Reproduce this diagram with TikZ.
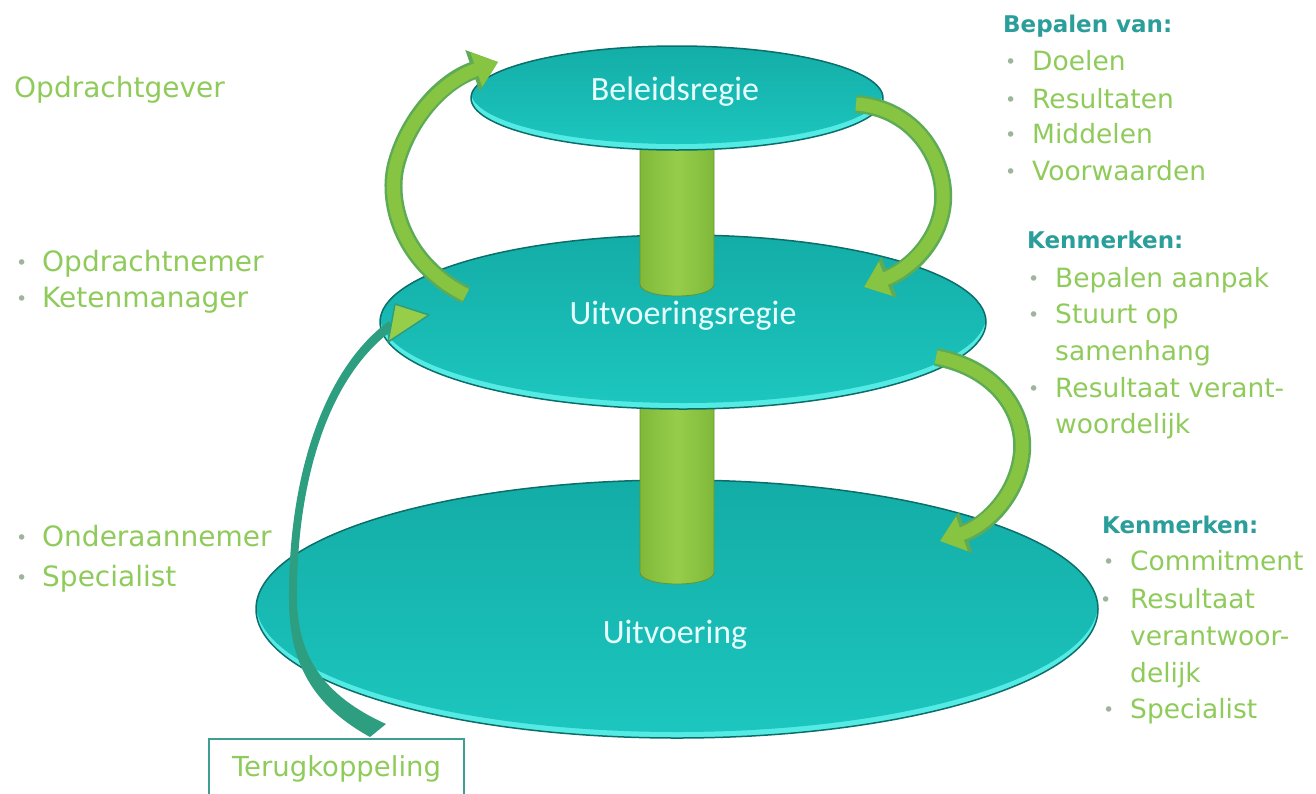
\documentclass[tikz,border=0pt]{standalone}
\usepackage{fontspec}
\setmainfont{DejaVu Sans}
\newfontfamily\labfont{Carlito}
\usetikzlibrary{shapes.geometric,arrows.meta,calc}
\definecolor{tealA}{HTML}{13ACA6}
\definecolor{tealB}{HTML}{1CC6BE}
\definecolor{rimc}{HTML}{55EBE5}
\definecolor{edgec}{HTML}{0C6E6B}
\definecolor{limeL}{HTML}{96CE4A}
\definecolor{limeD}{HTML}{80B93A}
\definecolor{arrowc}{HTML}{86C442}
\definecolor{arrowo}{HTML}{5EAB55}
\definecolor{fbc}{HTML}{2E9E80}
\definecolor{txtg}{HTML}{8FCB5A}
\definecolor{headc}{HTML}{2A9E9A}
\definecolor{bulc}{HTML}{9DB59A}
\definecolor{labc}{HTML}{E6FFFF}
\definecolor{boxc}{HTML}{3E9E94}
\newcommand\bul[1][25pt]{\makebox[#1][l]{\raisebox{2pt}{\fontsize{19}{19}\selectfont\color{bulc}\textbullet}}}
\tikzset{
  disc/.style={ellipse, inner sep=0pt, draw=edgec, line width=1.5pt,
    path picture={
      \fill[rimc] (path picture bounding box.south west) rectangle (path picture bounding box.north east);
      \shade[top color=tealA, bottom color=tealB] ($(path picture bounding box.center)+(0,-6)$) ellipse (#1);
    }},
  lab/.style={font=\labfont\fontsize{34}{40}\selectfont, text=labc, anchor=base, inner sep=0pt},
  side/.style={font=\fontsize{26.5}{30}\selectfont, text=txtg, anchor=base west, inner sep=0pt},
  lside/.style={side, font=\fontsize{28}{32}\selectfont},
  head/.style={font=\bfseries\fontsize{23}{28}\selectfont, text=headc, anchor=base west, inner sep=0pt},
  pillar/.style={left color=limeD, right color=limeD, middle color=limeL, draw=limeD!80!black, line width=0.8pt},
  bigarrowout/.style={draw=arrowo, line width=18pt, -{Triangle[length=27pt,width=42pt]}},
  bigarrow/.style={draw=arrowc, line width=13pt, -{Triangle[length=23pt,width=35pt]}},
}
\begin{document}
\begin{tikzpicture}[x=1pt,y=-1pt]
\useasboundingbox (0,0) rectangle (1316,793);

% bottom disc
\node[disc={421pt and 129pt}, minimum width=842pt, minimum height=258pt] (bot) at (677,609) {};
% lower pillar
\shade[pillar] (640,395) -- (640,572) .. controls (640,588) and (714,588) .. (714,572) -- (714,395) -- cycle;
% middle disc
\node[disc={303pt and 87pt}, minimum width=606pt, minimum height=174pt] (mid) at (683,322) {};
% upper pillar
\shade[pillar] (640,130) -- (640,284) .. controls (640,300) and (714,300) .. (714,284) -- (714,130) -- cycle;
% top disc
\node[disc={206pt and 52pt}, minimum width=412pt, minimum height=104pt] (top) at (677,98) {};

% disc labels
\node[lab] (ltop) at (675,100) {Beleidsregie};
\node[lab] (lmid) at (683,324) {Uitvoeringsregie};
\node[lab] (lbot) at (675,643) {Uitvoering};

% named ends of the curved arrows
\coordinate (a1s) at (466,295);
\coordinate (a1e) at (498,62);
\coordinate (a2s) at (856,104);
\coordinate (a2e) at (864,287);
\coordinate (a3s) at (936,357);
\coordinate (a3e) at (940,541);

\foreach \st in {bigarrowout,bigarrow}{
  \draw[\st] (a1s) .. controls (405,265) and (386,205) .. (396,165) .. controls (407,122) and (440,82) .. (a1e);
  \draw[\st] (a2s) .. controls (915,108) and (946,160) .. (943,202) .. controls (940,242) and (908,270) .. (a2e);
  \draw[\st] (a3s) .. controls (995,368) and (1025,410) .. (1022,452) .. controls (1018,496) and (985,526) .. (a3e);
}

% feedback arrow (tapered line plus head)
\coordinate (fbs) at (378,730);
\coordinate (fbe) at (429,315);
\fill[fbc] (370,737) .. controls (312,705) and (289,662) .. (289,600)
   .. controls (288,480) and (322,370) .. (389,321)
   -- (394,329) .. controls (328,376) and (296,482) .. (297,600)
   .. controls (298,655) and (322,695) .. (386,724) -- cycle;
\filldraw[fill=limeL, draw=fbc, line width=1.5pt, line join=round]
   (fbe) -- (395,304) -- (388,342) -- cycle;

% feedback box
\node[draw=boxc, line width=2pt, minimum width=255pt, minimum height=60pt, anchor=north west,
      font=\fontsize{27.5}{30}\selectfont, text=txtg, inner sep=0pt] (fb) at (208,738) {Terugkoppeling};

% left texts
\node[lside] (l1) at (14,97) {Opdrachtgever};
\node[lside] (l2) at (16,271) {\bul[26pt]Opdrachtnemer};
\node[lside] (l3) at (16,307) {\bul[26pt]Ketenmanager};
\node[lside] (l4) at (16,546) {\bul[26pt]Onderaannemer};
\node[lside] (l5) at (16,586) {\bul[26pt]Specialist};

% right top group
\node[head] (h1) at (1003,32) {Bepalen van:};
\node[side] (r1) at (1005,70) {\bul[27pt]Doelen};
\node[side] (r2) at (1005,108) {\bul[27pt]Resultaten};
\node[side] (r3) at (1005,143) {\bul[27pt]Middelen};
\node[side] (r4) at (1005,180) {\bul[27pt]Voorwaarden};

% right middle group
\node[head] (h2) at (1027,248) {Kenmerken:};
\node[side] (m1) at (1028,287) {\bul[27pt]Bepalen aanpak};
\node[side] (m2) at (1028,323) {\bul[27pt]Stuurt op};
\node[side] (m3) at (1055,360) {samenhang};
\node[side] (m4) at (1028,397) {\bul[27pt]Resultaat verant-};
\node[side] (m5) at (1055,433) {woordelijk};

% right bottom group
\node[head] (h3) at (1102,533) {Kenmerken:};
\node[side] (b1) at (1103,570) {\bul[27pt]Commitment};
\node[side] (b2) at (1100,608) {\bul[30pt]Resultaat};
\node[side] (b3) at (1130,645) {verantwoor-};
\node[side] (b4) at (1130,682) {delijk};
\node[side] (b5) at (1103,718) {\bul[27pt]Specialist};
\end{tikzpicture}
\end{document}
